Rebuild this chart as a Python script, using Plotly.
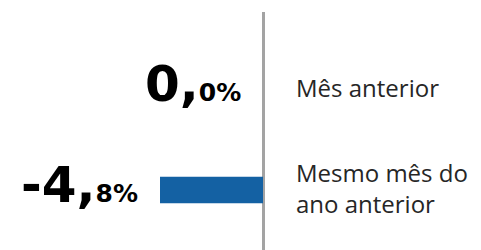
import plotly.graph_objects as go

categories = ["Mês anterior", "Mesmo mês do<br>ano anterior"]
values = [0.0, -4.8]

BAR_COLOR = "#1461a3"
LINE_COLOR = "#a3a3a3"
TEXT_COLOR = "#262626"

# The page body has an 8px default margin; the figure is sized to fit the window.
W, H = 473, 242
ZERO_PX = 255
px_per_unit = 103 / 4.8

fig = go.Figure()
fig.add_trace(go.Bar(
    y=list(range(len(categories))),
    x=values,
    orientation="h",
    width=0.26,
    marker=dict(color=BAR_COLOR, line=dict(width=0)),
    hoverinfo="skip",
))

for i, (cat, v) in enumerate(zip(categories, values)):
    s = f"{v:.1f}".replace(".", ",")
    ip, dp = s.split(",")
    fig.add_annotation(
        x=min(v, 0), y=i, xref="x", yref="y",
        text=f"<b>{ip},</b><span style='font-size:25px'><b>{dp}%</b></span>",
        showarrow=False, xanchor="right", yanchor="middle",
        xshift=-20, yshift=5,
        font=dict(family="DejaVu Sans", size=50, color="#000000"),
    )
    fig.add_annotation(
        x=0, y=i, xref="x", yref="y",
        text=cat, showarrow=False, xanchor="left", yanchor="middle",
        align="left", xshift=31, yshift=2,
        font=dict(family="Open Sans", size=24, color=TEXT_COLOR),
    )

fig.update_layout(
    width=W, height=H,
    margin=dict(l=0, r=0, t=4, b=0),
    paper_bgcolor="white", plot_bgcolor="white",
    showlegend=False,
    xaxis=dict(range=[-ZERO_PX / px_per_unit, (W - ZERO_PX) / px_per_unit],
               showgrid=False, showticklabels=False, ticks="",
               zeroline=True, zerolinecolor=LINE_COLOR, zerolinewidth=3,
               fixedrange=True),
    yaxis=dict(range=[1 + 60 / 101, -77 / 101],
               showgrid=False, showticklabels=False, ticks="",
               zeroline=False, fixedrange=True),
)

fig.write_html("out.html")
